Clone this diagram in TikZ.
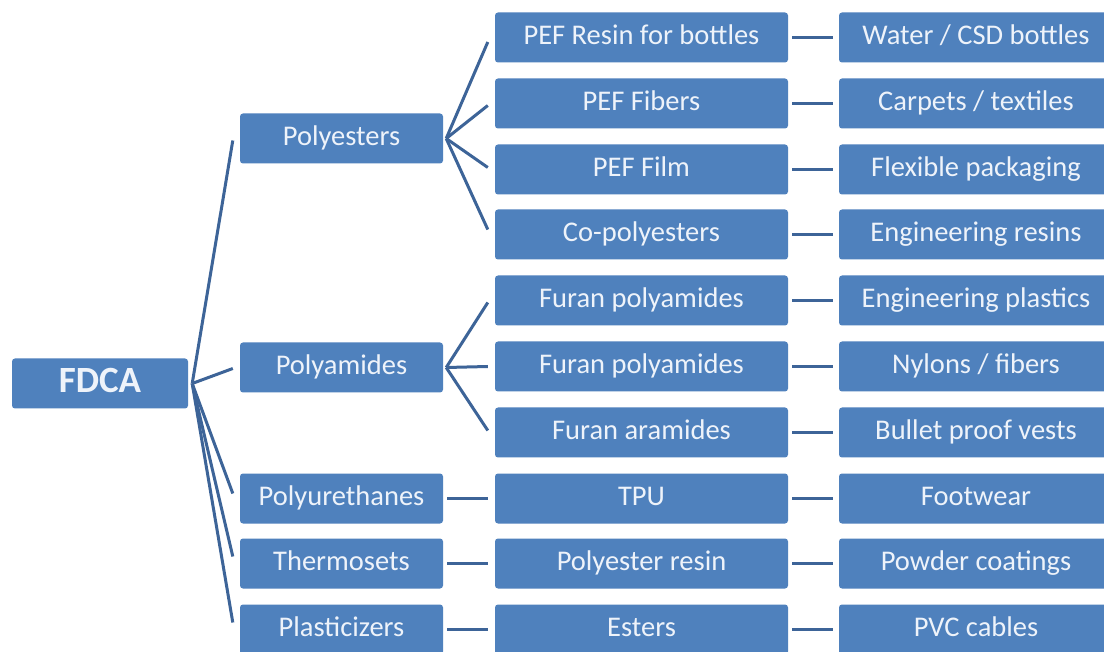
\documentclass[tikz,border=0pt]{standalone}
\usepackage{fontspec}
\setmainfont{Carlito}
\usetikzlibrary{calc}
\definecolor{boxblue}{HTML}{4F81BD}
\definecolor{linkblue}{HTML}{3D6498}
\definecolor{txtcol}{HTML}{EEF3FA}
\tikzset{
  box/.style={rectangle, rounded corners=3pt, fill=boxblue, text=txtcol,
    minimum height=50pt, inner sep=0pt, anchor=center,
    text height=20pt, text depth=6pt,
    font=\fontsize{28.5}{30}\selectfont},
  rootbox/.style={box, minimum width=176pt, text height=26pt, text depth=8pt,
    font=\fontsize{37}{40}\selectfont\bfseries},
  catbox/.style={box, minimum width=203pt},
  midbox/.style={box, minimum width=293pt},
  appbox/.style={box, minimum width=274pt},
  link/.style={draw=linkblue, line width=3pt},
}
\begin{document}
\begin{tikzpicture}[x=1pt,y=-1pt]
\useasboundingbox (0,0) rectangle (1104,652);
\fill[white] (0,0) rectangle (1104,652);
\begin{scope}
\clip (0,0) rectangle (1104,652);
% root
\node[rootbox] (fdca) at (100,383.5) {FDCA};
% categories
\node[catbox] (pe) at (341.5,138.5) {Polyesters};
\node[catbox] (pa) at (341.5,367.5) {Polyamides};
\node[catbox] (pu) at (341.5,498.5) {Polyurethanes};
\node[catbox] (th) at (341.5,563.5) {Thermosets};
\node[catbox] (pl) at (341.5,629.5) {Plasticizers};
% middle column
\node[midbox] (m0) at (641.5,37.5) {PEF Resin for bottles};
\node[midbox] (m1) at (641.5,103.5) {PEF Fibers};
\node[midbox] (m2) at (641.5,169.5) {PEF Film};
\node[midbox] (m3) at (641.5,234.5) {Co-polyesters};
\node[midbox] (m4) at (641.5,300.5) {Furan polyamides};
\node[midbox] (m5) at (641.5,366.5) {Furan polyamides};
\node[midbox] (m6) at (641.5,432.5) {Furan aramides};
\node[midbox] (m7) at (641.5,498.5) {TPU};
\node[midbox] (m8) at (641.5,563.5) {Polyester resin};
\node[midbox] (m9) at (641.5,629.5) {Esters};
% right column
\node[appbox] (a0) at (976,37.5) {Water / CSD bottles};
\node[appbox] (a1) at (976,103.5) {Carpets / textiles};
\node[appbox] (a2) at (976,169.5) {Flexible packaging};
\node[appbox] (a3) at (976,234.5) {Engineering resins};
\node[appbox] (a4) at (976,300.5) {Engineering plastics};
\node[appbox] (a5) at (976,366.5) {Nylons / fibers};
\node[appbox] (a6) at (976,432.5) {Bullet proof vests};
\node[appbox] (a7) at (976,498.5) {Footwear};
\node[appbox] (a8) at (976,563.5) {Powder coatings};
\node[appbox] (a9) at (976,629.5) {PVC cables};
\end{scope}
% FDCA fan
\draw[link] ($(fdca.east)+(4,0)$) -- ($(pe.west)+(-7,2)$);
\draw[link] ($(fdca.east)+(4,0)$) -- ($(pa.west)+(-7,1)$);
\draw[link] ($(fdca.east)+(4,0)$) -- ($(pu.west)+(-7,-5)$);
\draw[link] ($(fdca.east)+(4,0)$) -- ($(th.west)+(-7,-7)$);
\draw[link] ($(fdca.east)+(4,0)$) -- ($(pl.west)+(-7,-7)$);
% Polyesters fan
\draw[link] ($(pe.east)+(3,0)$) -- ($(m0.west)+(-7,4.5)$);
\draw[link] ($(pe.east)+(3,0)$) -- ($(m1.west)+(-7,2)$);
\draw[link] ($(pe.east)+(3,0)$) -- ($(m2.west)+(-7,-2)$);
\draw[link] ($(pe.east)+(3,0)$) -- ($(m3.west)+(-7,-5)$);
% Polyamides fan
\draw[link] ($(pa.east)+(3,0)$) -- ($(m4.west)+(-7,2)$);
\draw[link] ($(pa.east)+(3,0)$) -- ($(m5.west)+(-7,0)$);
\draw[link] ($(pa.east)+(3,0)$) -- ($(m6.west)+(-7,-2)$);
% straight dashes col1 -> middle
\draw[link] ($(pu.east)+(4,0)$) -- ($(m7.west)+(-7,0)$);
\draw[link] ($(th.east)+(4,0)$) -- ($(m8.west)+(-7,0)$);
\draw[link] ($(pl.east)+(4,0)$) -- ($(m9.west)+(-7,0)$);
% middle -> right dashes
\foreach \i in {0,...,9}{
  \draw[link] ($(m\i.east)+(4,0)$) -- ($(a\i.west)+(-6,0)$);
}
\end{tikzpicture}
\end{document}
